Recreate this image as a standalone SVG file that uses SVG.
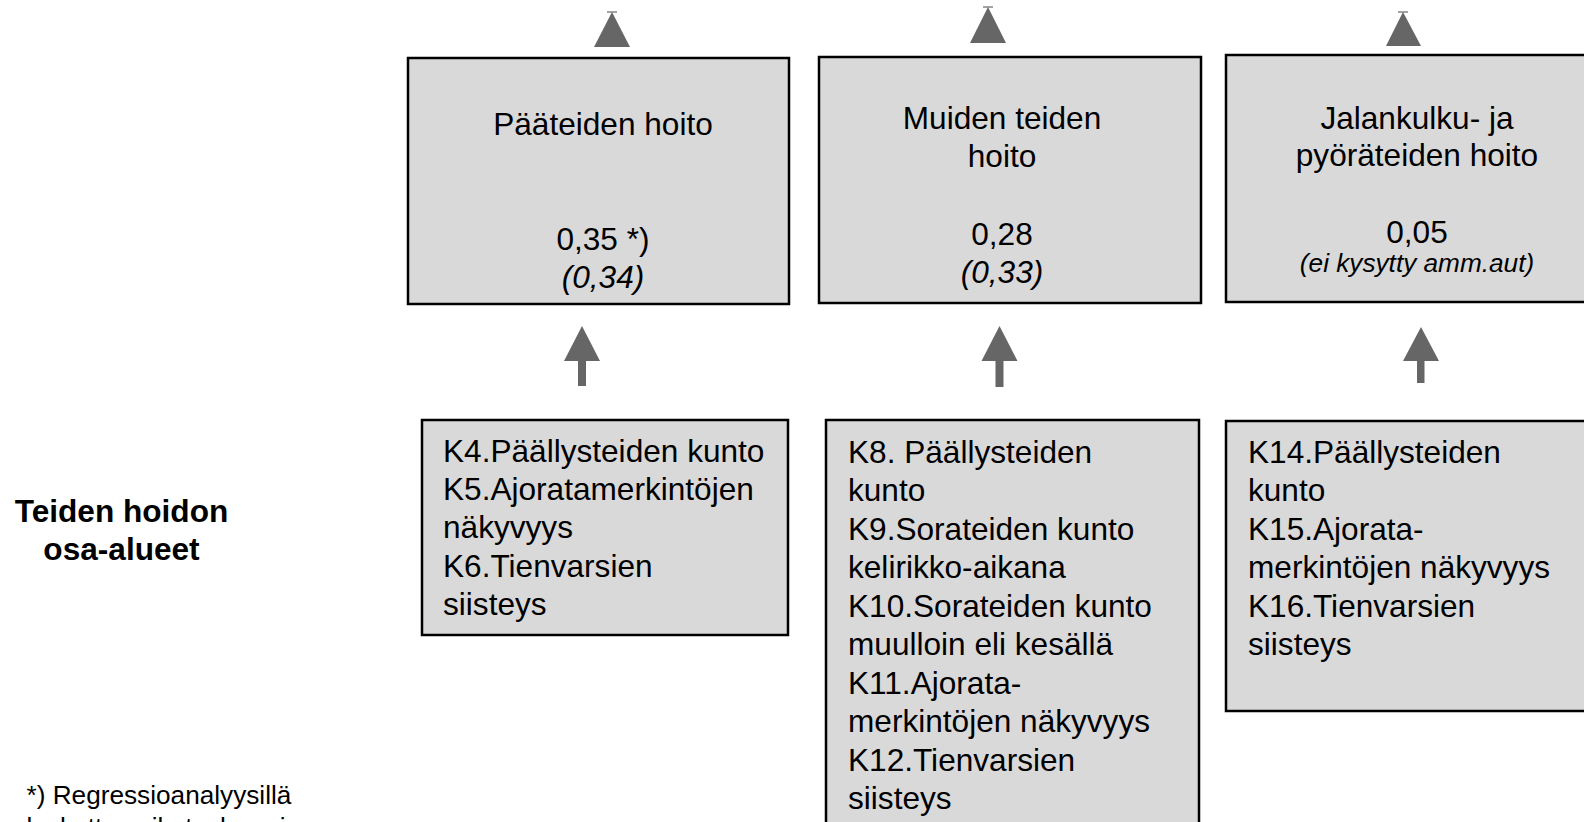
<svg xmlns="http://www.w3.org/2000/svg" width="1584" height="822" viewBox="0 0 1584 822">
<style>
.box{fill:#d9d9d9;stroke:#000;stroke-width:2.5}
.t{font-family:"Liberation Sans",Arial,sans-serif;font-size:31.6px;fill:#000}
.c{text-anchor:middle}
.i{font-style:italic}
.s{font-size:26.2px}
.b{font-weight:bold}
.arr{fill:#666}
.tick{stroke:#666;stroke-width:1.2}
</style>
<rect width="1584" height="822" fill="#fff"/>
<g id="connectors">
  <line class="tick" x1="607" y1="12" x2="617" y2="12"/>
  <polygon class="arr" points="612,12 630,47 594,47"/>
  <line class="tick" x1="983" y1="7" x2="993" y2="7"/>
  <polygon class="arr" points="988,7 1006,43 970,43"/>
  <line class="tick" x1="1398" y1="12" x2="1408" y2="12"/>
  <polygon class="arr" points="1403,12 1421,46 1386,46"/>
  <polygon class="arr" points="582,326 600,361 586,361 586,386 578,386 578,361 564,361"/>
  <polygon class="arr" points="999.5,326 1017.5,361 1003.5,361 1003.5,387 995.5,387 995.5,361 981.5,361"/>
  <polygon class="arr" points="1421,327 1439,361 1424.5,361 1424.5,383 1417,383 1417,361 1403,361"/>
</g>
<g id="node-paateiden">
  <rect class="box" x="408" y="58" width="381" height="246"/>
  <text class="t c" x="603" y="135">Pääteiden hoito</text>
  <text class="t c" x="603" y="250">0,35 *)</text>
  <text class="t c i" x="603" y="288">(0,34)</text>
</g>
<g id="node-muiden">
  <rect class="box" x="819" y="57" width="382" height="246"/>
  <text class="t c" x="1002" y="129">Muiden teiden</text>
  <text class="t c" x="1002" y="167">hoito</text>
  <text class="t c" x="1002" y="245">0,28</text>
  <text class="t c i" x="1002" y="283">(0,33)</text>
</g>
<g id="node-jalankulku">
  <rect class="box" x="1226" y="55" width="380" height="247"/>
  <text class="t c" x="1417" y="129">Jalankulku- ja</text>
  <text class="t c" x="1417" y="166">pyöräteiden hoito</text>
  <text class="t c" x="1417" y="243">0,05</text>
  <text class="t c i s" x="1417" y="272">(ei kysytty amm.aut)</text>
</g>
<g id="node-k4">
  <rect class="box" x="422" y="420" width="366" height="215"/>
  <text class="t" x="443" y="462">K4.Päällysteiden kunto</text>
  <text class="t" x="443" y="500">K5.Ajoratamerkintöjen</text>
  <text class="t" x="443" y="538">näkyvyys</text>
  <text class="t" x="443" y="577">K6.Tienvarsien</text>
  <text class="t" x="443" y="615">siisteys</text>
</g>
<g id="node-k8">
  <rect class="box" x="826" y="420" width="373" height="430"/>
  <text class="t" x="848" y="462.5">K8. Päällysteiden</text>
  <text class="t" x="848" y="501">kunto</text>
  <text class="t" x="848" y="539.5">K9.Sorateiden kunto</text>
  <text class="t" x="848" y="578">kelirikko-aikana</text>
  <text class="t" x="848" y="616.5">K10.Sorateiden kunto</text>
  <text class="t" x="848" y="655">muulloin eli kesällä</text>
  <text class="t" x="848" y="693.5">K11.Ajorata-</text>
  <text class="t" x="848" y="732">merkintöjen näkyvyys</text>
  <text class="t" x="848" y="770.5">K12.Tienvarsien</text>
  <text class="t" x="848" y="809">siisteys</text>
</g>
<g id="node-k14">
  <rect class="box" x="1226" y="421" width="380" height="290"/>
  <text class="t" x="1248" y="462.5">K14.Päällysteiden</text>
  <text class="t" x="1248" y="501">kunto</text>
  <text class="t" x="1248" y="539.5">K15.Ajorata-</text>
  <text class="t" x="1248" y="578">merkintöjen näkyvyys</text>
  <text class="t" x="1248" y="616.5">K16.Tienvarsien</text>
  <text class="t" x="1248" y="655">siisteys</text>
</g>
<g id="label-osa-alueet">
  <text class="t c b" x="121.5" y="522">Teiden hoidon</text>
  <text class="t c b" x="121.5" y="560">osa-alueet</text>
</g>
<g id="footnote">
  <text class="t s" x="26.5" y="804">*) Regressioanalyysillä</text>
  <text class="t s" x="26.5" y="836">laskettu vaikutuskerroin</text>
</g>
</svg>
